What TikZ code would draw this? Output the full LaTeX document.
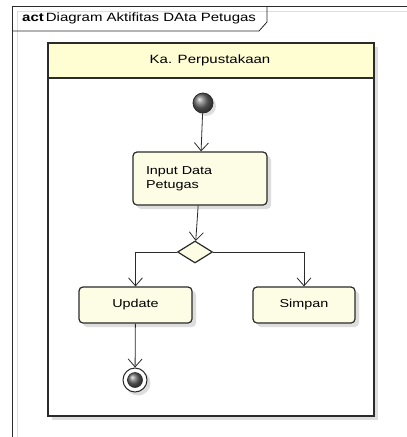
\documentclass[tikz,border=0pt]{standalone}
\usepackage{fontspec}
\setmainfont{Liberation Sans}[FakeStretch=1.25]
\usetikzlibrary{arrows.meta,shapes.geometric}
\definecolor{actfill}{HTML}{FDFCE4}
\definecolor{lanehead}{HTML}{FFFDD2}
\definecolor{shadowgrey}{HTML}{DDDDDD}
\definecolor{edge}{HTML}{2A2A2A}
\tikzset{
  action/.style={draw=edge, line width=1.2pt, rounded corners=4pt, fill=actfill,
    inner sep=0pt, font=\fontsize{11.5}{14}\selectfont},
  actshadow/.style={fill=shadowgrey, rounded corners=4pt},
  flow/.style={draw=edge, line width=0.8pt,
    -{Straight Barb[length=8pt,width=14pt,line width=0.8pt]}},
  decision/.style={diamond, draw=edge, line width=1.2pt, fill=actfill,
    minimum width=35pt, minimum height=22pt, inner sep=0pt},
  pseudo/.style={circle, draw=edge, inner sep=0pt, ball color=gray!85!black},
}
\begin{document}
\begin{tikzpicture}[x=1pt,y=-1pt]
\useasboundingbox (0,0) rectangle (407,437);
\fill[white] (0,0) rectangle (407,437);

% outer activity frame
\draw[shadowgrey, line width=0.8pt] (17,437) -- (17,11) -- (407,11);
\draw[edge, line width=0.9pt] (12,437) -- (12,6) -- (407,6);
\draw[edge, line width=0.8pt] (12,31) -- (259,31) -- (267,22) -- (267,6);
\node[anchor=west, inner sep=0pt, font=\fontsize{12}{13}\selectfont] (title) at (22,18.5)
  {\textbf{act}\,Diagram Aktifitas DAta Petugas};

% swimlane
\fill[shadowgrey] (52,47) rectangle (378,420);
\draw[edge, line width=1.3pt, fill=white] (48,43) rectangle (374,416);
\draw[edge, line width=1.3pt, fill=lanehead] (48,43) rectangle (374,78);
\node[font=\fontsize{12}{14}\selectfont] (lane) at (210,60.5) {Ka. Perpustakaan};

% initial node
\fill[shadowgrey] (206,106) circle (10);
\node[pseudo, line width=0.8pt, minimum size=20pt] (init) at (203,103) {};

% actions
\fill[actshadow] (137,156) rectangle (271,209);
\node[action, minimum width=134pt, minimum height=53pt, text width=108pt,
  align=left, inner xsep=13pt] (input) at (200,178.5) {Input Data\\Petugas};

\fill[actshadow] (83,291) rectangle (196,327);
\node[action, minimum width=113pt, minimum height=36pt] (update) at (135.5,305) {Update};

\fill[actshadow] (257,291) rectangle (359,327);
\node[action, minimum width=102pt, minimum height=36pt] (simpan) at (304,305) {Simpan};

% decision
\node[decision] (dec) at (195,252) {};

% final node
\fill[shadowgrey] (138,383) circle (12.5);
\node[circle, draw=edge, line width=1pt, fill=white, minimum size=24pt, inner sep=0pt]
  (final) at (135,380) {};
\node[pseudo, line width=0.6pt, minimum size=15pt] (finalin) at (final.center) {};

% control flows
\draw[flow] (init) -- (input);
\draw[flow] (input) -- (dec);
\draw[flow] (dec.west) -| (update.north);
\draw[flow] (dec.east) -| (simpan.north);
\draw[flow] (update) -- (final);
\end{tikzpicture}
\end{document}
